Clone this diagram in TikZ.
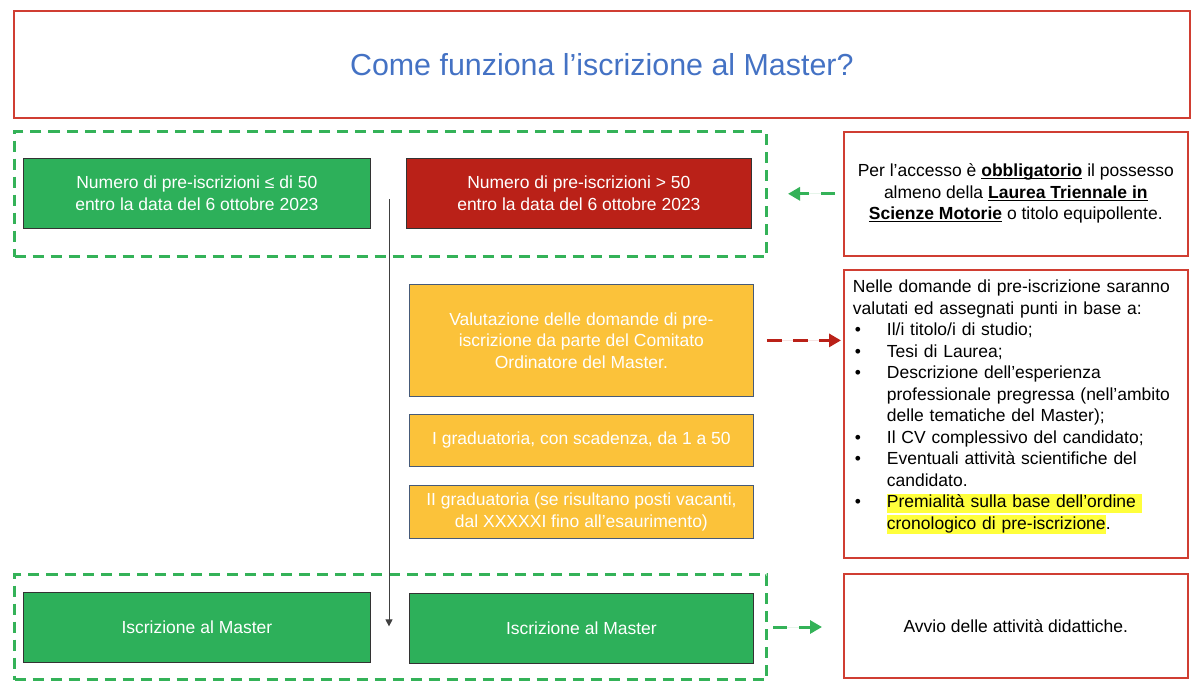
\documentclass[tikz,border=0pt]{standalone}
\usepackage{fontspec}
\setmainfont{Liberation Sans}
\usepackage{xcolor}
\usepackage{tikz}
\usetikzlibrary{positioning}
\usetikzlibrary{arrows.meta}
\definecolor{verde}{RGB}{45,176,90}
\definecolor{verdetratto}{RGB}{52,178,88}
\definecolor{rosso}{RGB}{186,33,24}
\definecolor{arancio}{RGB}{251,194,58}
\definecolor{bordorosso}{RGB}{208,62,50}
\definecolor{bordoblu}{RGB}{70,90,120}
\definecolor{blutitolo}{RGB}{68,114,196}
\definecolor{evidenzia}{RGB}{255,255,60}
\tikzset{freccia/.style = {->,> = {Triangle[length=12pt,width=13pt]}}}
\newcommand{\voce}{\makebox[34pt][l]{\hspace{2pt}\textbullet}}
\newcommand{\rientro}{\hspace*{34pt}}
\newcommand{\evid}[1]{{\setlength{\fboxsep}{0pt}\colorbox{evidenzia}{\rule[-5pt]{0pt}{19pt}#1}}}
\newcommand{\sott}[1]{\setbox0\hbox{#1}\rlap{\rule[-2.5pt]{\wd0}{1.3pt}}\box0\relax}

\begin{document}
\begin{tikzpicture}[x=1pt,y=-1pt,
    testo/.style={font=\fontsize{17.5}{21.5}\selectfont},
    scatola/.style={rectangle,anchor=north west,inner sep=0pt,align=center,testo},
    pieno/.style={scatola,draw=black!80,line width=0.8pt,text=white},
    nota/.style={scatola,draw=bordorosso,line width=1.6pt,minimum width=344pt},
    gruppo/.style={rectangle,anchor=north west,inner sep=0pt,draw=verdetratto,line width=3pt,dash pattern=on 11pt off 7pt,minimum width=752pt},
    arancione/.style={scatola,fill=arancio,draw=bordoblu,line width=0.8pt,text=white,minimum width=344pt}]
    \useasboundingbox (0,0) rectangle (1200,683);
    % titolo
    \node[scatola,draw=bordorosso,line width=1.6pt,minimum width=1176pt,minimum height=107pt,
        text=blutitolo,font=\fontsize{30.4}{36}\selectfont] (titolo) at (13,10) {Come funziona l’iscrizione al Master?};
    % gruppi tratteggiati
    \node[gruppo,minimum height=125pt] (gruppoSopra) at (13,130) {};
    \node[gruppo,minimum height=105pt] (gruppoSotto) at (13,573) {};
    % pre-iscrizioni
    \node[pieno,fill=verde,minimum width=347pt,minimum height=70pt] (pochi) at (23,158)
        {Numero di pre-iscrizioni ≤ di 50\\entro la data del 6 ottobre 2023};
    \node[pieno,fill=rosso,minimum width=345pt,minimum height=70pt] (tanti) at (406,158)
        {Numero di pre-iscrizioni > 50\\entro la data del 6 ottobre 2023};
    % valutazione e graduatorie
    \node[arancione,minimum height=112pt] (valutazione) at (409,284)
        {Valutazione delle domande di pre-\\iscrizione da parte del Comitato\\Ordinatore del Master.};
    \node[arancione,minimum height=52pt] (primaGrad) at (409,414) {I graduatoria, con scadenza, da 1 a 50};
    \node[arancione,minimum height=53pt] (secondaGrad) at (409,485)
        {II graduatoria (se risultano posti vacanti,\\dal XXXXXI fino all’esaurimento)};
    % iscrizione
    \node[pieno,fill=verde,minimum width=347pt,minimum height=70pt] (iscrA) at (23,592) {Iscrizione al Master};
    \node[pieno,fill=verde,minimum width=344pt,minimum height=70pt] (iscrB) at (409,593) {Iscrizione al Master};
    % note a destra
    \node[nota,draw=bordorosso,minimum height=124pt] (accesso) at (843,131)
        {Per l’accesso è \sott{\textbf{obbligatorio}} il possesso\\almeno della \sott{\textbf{Laurea Triennale in}}\\\sott{\textbf{Scienze Motorie}} o titolo equipollente.};
    \node[nota,draw=bordorosso,minimum height=288pt] (criteri) at (843,269) {};
    \node[testo,anchor=north west,inner sep=0pt,text width=335pt,align=left,xshift=9.7pt,yshift=-11pt] (criteriTesto) at (criteri.north west)
        {Nelle domande di pre-iscrizione saranno\\
        valutati ed assegnati punti in base a:\\
        \voce Il/i titolo/i di studio;\\
        \voce Tesi di Laurea;\\
        \voce Descrizione dell’esperienza\\
        \rientro professionale pregressa (nell’ambito\\
        \rientro delle tematiche del Master);\\
        \voce Il CV complessivo del candidato;\\
        \voce Eventuali attività scientifiche del\\
        \rientro candidato.\\
        \voce \evid{Premialità sulla base dell’ordine }\\
        \rientro \evid{cronologico di pre-iscrizione}.};
    \node[nota,draw=bordorosso,minimum height=104pt] (avvio) at (843,573) {Avvio delle attività didattiche.};
    % collegamenti
    \coordinate (inizio) at (389,199);
    \draw[freccia,>={Triangle[length=7pt,width=7pt]},draw=black!75,line width=0.9pt,shorten >=1pt] (inizio) -- (inizio |- iscrA.east);
    \draw[freccia,draw=verdetratto,fill=verdetratto,line width=3pt,dash pattern=on 14pt off 12pt,shorten <=8pt,shorten >=20pt] (accesso.west) -- (accesso.west -| gruppoSopra.east);
    \draw[freccia,draw=rosso,fill=rosso,line width=3pt,dash pattern=on 15pt off 11pt,shorten <=13pt,shorten >=2pt] (valutazione.east) -- (valutazione.east -| criteri.west);
    \draw[freccia,draw=verdetratto,fill=verdetratto,line width=3pt,dash pattern=on 14pt off 12pt,shorten <=5pt,shorten >=21pt] (gruppoSotto.east) -- (gruppoSotto.east -| avvio.west);
\end{tikzpicture}
\end{document}
